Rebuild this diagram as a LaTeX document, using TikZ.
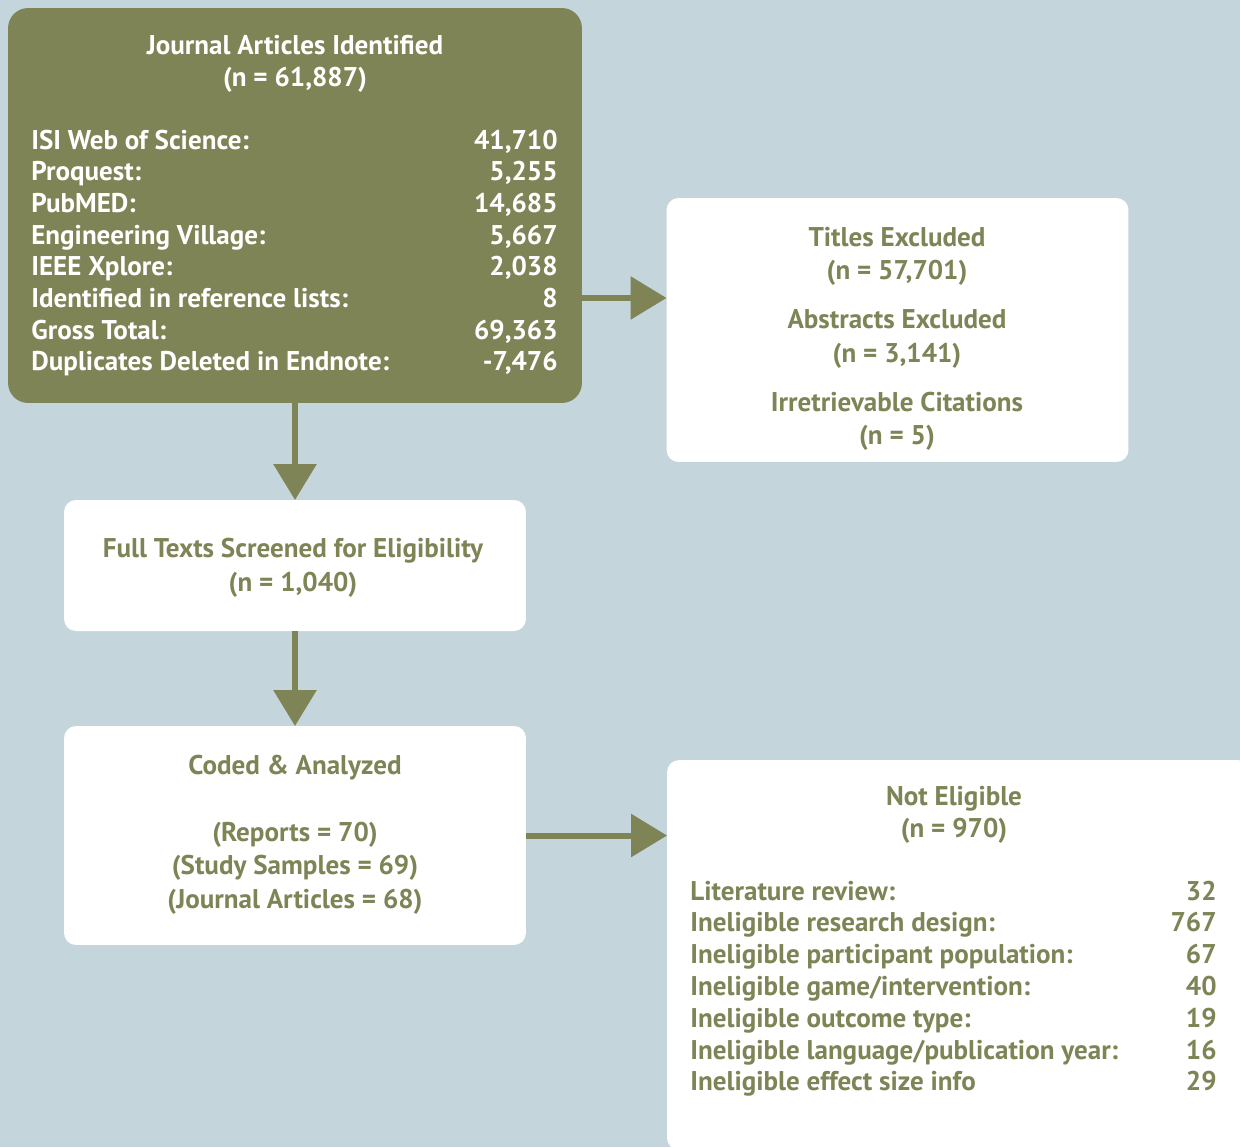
\documentclass[tikz,border=0pt]{standalone}
\usepackage{fontspec}
\setmainfont{PT Sans}
\usetikzlibrary{arrows.meta}
\definecolor{oliveg}{HTML}{7F8456}
\definecolor{bgblue}{HTML}{C5D5DC}
\tikzset{
  box/.style={rounded corners=0.24cm, fill=white, inner sep=0, outer sep=0, minimum width=9.24cm},
  txt/.style={anchor=base, inner sep=0, oliveg, font=\fontsize{15.4pt}{18pt}\bfseries\selectfont},
  wtxt/.style={txt, white},
  flow/.style={line width=0.12cm, oliveg, -{Triangle[length=0.72cm, width=0.84cm]}}
}

\begin{document}
\begin{tikzpicture}[x=0.02cm, y=-0.02cm]
  \useasboundingbox (0,0) rectangle (1240,1147);
  \fill[bgblue] (0,0) rectangle (1240,1147);
  \clip (0,0) rectangle (1240,1147);
 % \draw[thin,gray!40] (0,0) grid[step=100] (1240,1147);
  \node[box, fill=oliveg, rounded corners=0.4cm, minimum width=11.48cm, minimum height=7.9cm] (b1) at (295,205.5) {};
  \node[box, minimum height=5.28cm] (b2) at (897.5,330) {};
  \node[box, minimum height=2.62cm] (b3) at (295,565.5) {};
  \node[box, minimum height=4.38cm] (b4) at (295,835.5) {};
  \node[box, minimum width=11.66cm, minimum height=7.8cm] (b5) at (958.5,955) {};

  \node[wtxt] (t1a) at (295,54) {Journal Articles Identified};
  \node[wtxt] (t1b) at (295,86) {(n = 61,887)};
  \foreach \lab/\num [count=\i from 0] in {{ISI Web of Science:}/{41,710}, {Proquest:}/{5,255},
      {PubMED:}/{14,685}, {Engineering Village:}/{5,667}, {IEEE Xplore:}/{2,038},
      {Identified in reference lists:}/{8}, {Gross Total:}/{69,363}, {Duplicates Deleted in Endnote:}/{-7,476}}{
    \node[wtxt, anchor=base west] (src\i) at (31,{149+31.7*\i}) {\lab};
    \node[wtxt, anchor=base east] (srcn\i) at (558,{149+31.7*\i}) {\num};
  }

  \node[txt] (t2a) at (897,246) {Titles Excluded};
  \node[txt] (t2b) at (897,279) {(n = 57,701)};
  \node[txt] (t2c) at (897,328) {Abstracts Excluded};
  \node[txt] (t2d) at (897,362) {(n = 3,141)};
  \node[txt] (t2e) at (897,411) {Irretrievable Citations};
  \node[txt] (t2f) at (897,444) {(n = 5)};

  \node[txt] (t3a) at (293,557) {Full Texts Screened for Eligibility};
  \node[txt] (t3b) at (293,591) {(n = 1,040)};

  \node[txt] (t4a) at (295,774) {Coded \& Analyzed};
  \node[txt] (t4b) at (295,841) {(Reports = 70)};
  \node[txt] (t4c) at (295,874) {(Study Samples = 69)};
  \node[txt] (t4d) at (295,908) {(Journal Articles = 68)};

  \node[txt] (t5a) at (954,805) {Not Eligible};
  \node[txt] (t5b) at (954,837) {(n = 970)};
  \foreach \lab/\num [count=\i from 0] in {{Literature review:}/32, {Ineligible research design:}/767,
      {Ineligible participant population:}/67, {Ineligible game/intervention:}/40,
      {Ineligible outcome type:}/19, {Ineligible language/publication year:}/16,
      {Ineligible effect size info}/29}{
    \node[txt, anchor=base west] (ne\i) at (690,{900+31.8*\i}) {\lab};
    \node[txt, anchor=base east] (nen\i) at (1217,{900+31.8*\i}) {\num};
  }

  \draw[flow] (b1.south) -- (b3.north);
  \draw[flow] (b3.south) -- (b4.north);
  \draw[flow] ([yshift=-1.85cm]b1.east) -- ([yshift=-1.85cm]b1.east -| b2.west);
  \draw[flow] (b4.east) -- (b4.east -| b5.west);
\end{tikzpicture}
\end{document}
